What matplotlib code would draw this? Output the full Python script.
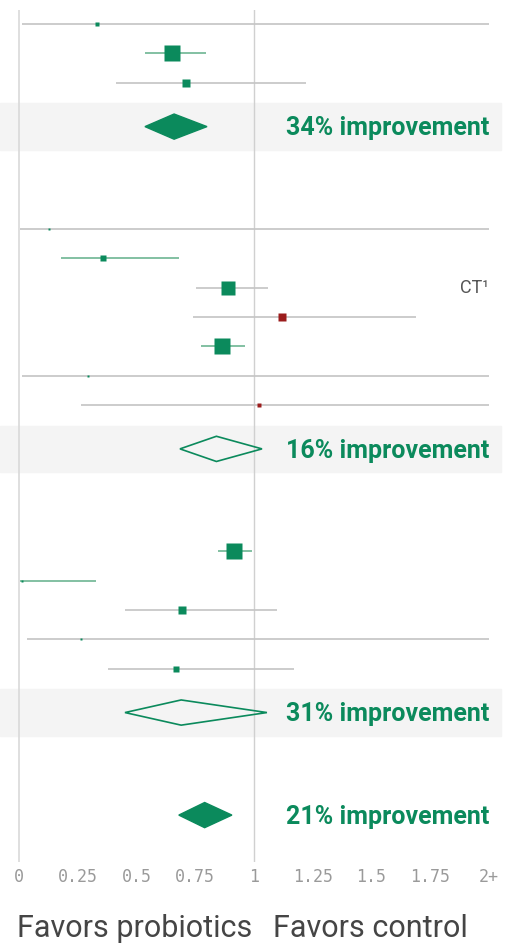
import numpy as np
import matplotlib.pyplot as plt
from matplotlib.patches import Polygon

# study estimates (risk ratio), CI bounds and weights, per group
# upper bounds past 2 are drawn at "2+"
g1_est = [0.33, 0.652, 0.71]
g1_lo = [0.013, 0.536, 0.413]
g1_hi = [2.0, 0.796, 1.22]
g1_w = [1, 25, 5]
g1_note = ["", "", ""]

g2_est = [0.128, 0.357, 0.889, 1.118, 0.864, 0.295, 1.02]
g2_lo = [0.005, 0.178, 0.752, 0.739, 0.774, 0.014, 0.262]
g2_hi = [2.0, 0.681, 1.058, 1.689, 0.962, 2.0, 2.0]
g2_w = [0.8, 2.5, 22, 5, 24, 0.8, 0.9]
g2_note = ["", "", "CT¹", "", "", "", ""]

g3_est = [0.916, 0.013, 0.695, 0.264, 0.666]
g3_lo = [0.845, 0.004, 0.45, 0.033, 0.38]
g3_hi = [0.99, 0.328, 1.097, 2.0, 1.17]
g3_w = [24, 0.6, 5, 0.6, 4]
g3_note = ["", "", "", "", ""]

# pooled results per group, then overall
pooled_est = [0.66, 0.84, 0.69, 0.79]
pooled_lo = [0.536, 0.685, 0.451, 0.68]
pooled_hi = [0.80, 1.034, 1.055, 0.906]

tick_vals = [0, 0.25, 0.5, 0.75, 1, 1.25, 1.5, 1.75, 2]
tick_labels = ["0", "0.25", "0.5", "0.75", "1", "1.25", "1.5", "1.75", "2+"]

GREEN = "#0b8a5c"
LIGHT_GREEN = "#6db592"
RED = "#9b1c1c"
GRAY = "#c4c4c4"

fig = plt.figure(figsize=(5.06, 9.44), dpi=100)
ax = fig.add_axes([0, 0.0869, 1, 0.9025])
ax.set_xlim(-19 / 235, 487 / 235)
ax.set_ylim(28.6, -0.48)

ax.axvline(0, color="#d9d9d9", lw=1.2, zorder=0)
ax.axvline(1, color="#d0d0d0", lw=1.0, zorder=0)


def diamond(y, est, lo, hi):
    filled = hi < 1
    pts = [(lo, y), (est, y - 0.43), (hi, y), (est, y + 0.43)]
    if filled:
        p = Polygon(pts, closed=True, facecolor=GREEN, edgecolor=GREEN, lw=1, zorder=3)
    else:
        p = Polygon(pts, closed=True, fill=False, edgecolor=GREEN, lw=1.2, zorder=3)
    ax.add_patch(p)
    # baseline set so the digits sit centred on the diamond
    ax.text(2.0, y + 0.3, f"{round((1 - est) * 100)}% improvement", ha="right", va="baseline",
            fontsize=18, fontweight="bold", family="Roboto", color=GREEN, zorder=4)


groups = [
    (g1_est, g1_lo, g1_hi, g1_w, g1_note),
    (g2_est, g2_lo, g2_hi, g2_w, g2_note),
    (g3_est, g3_lo, g3_hi, g3_w, g3_note),
]

start = 0
for gi, (est, lo, hi, w, note) in enumerate(groups):
    for i in range(len(est)):
        y = start + i
        line_col = LIGHT_GREEN if hi[i] < 1 else GRAY
        pt_col = RED if est[i] > 1 else GREEN
        ax.plot([lo[i], min(hi[i], 2)], [y, y], color=line_col, lw=1.2,
                solid_capstyle="butt", zorder=2)
        ax.plot(est[i], y, marker="s", ms=2.3 * np.sqrt(w[i]), color=pt_col,
                mec="none", zorder=3)
        if note[i]:
            ax.text(2.0, y, note[i], ha="right", va="center", fontsize=13,
                    family="Roboto", color="#555555")
    ys = start + len(est) + 0.5
    ax.axhspan(ys - 0.79, ys + 0.79, xmin=0, xmax=501 / 506, color="#f4f4f4", zorder=-1)
    diamond(ys, pooled_est[gi], pooled_lo[gi], pooled_hi[gi])
    start = ys + 3.5

diamond(start, pooled_est[3], pooled_lo[3], pooled_hi[3])

ax.set_yticks([])
ax.set_xticks(tick_vals)
ax.set_xticklabels(tick_labels, family="DejaVu Sans Mono", fontsize=12, color="#9a9a9a")
ax.tick_params(axis="x", length=0, pad=4)
for s in ax.spines.values():
    s.set_visible(False)

fig.text(135 / 506, 1 - 937 / 944, "Favors probiotics", ha="center", va="baseline",
         fontsize=22, family="Roboto", color="#454545")
fig.text(370 / 506, 1 - 937 / 944, "Favors control", ha="center", va="baseline",
         fontsize=22, family="Roboto", color="#454545")

fig.savefig("out.png", dpi=100)
